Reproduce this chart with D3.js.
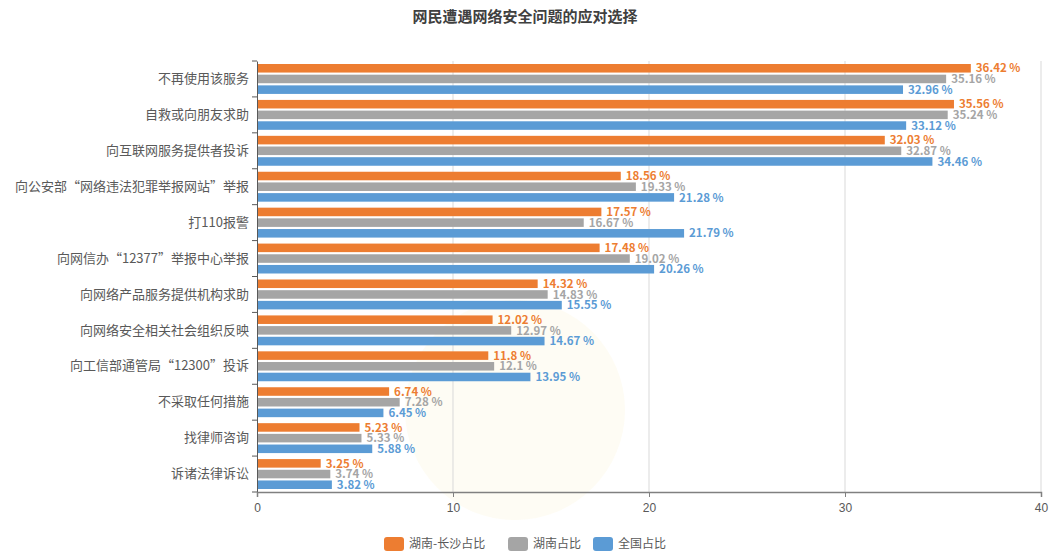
<!DOCTYPE html>
<html lang="zh">
<head>
<meta charset="utf-8">
<script src="https://d3js.org/d3.v7.min.js"></script>
<style>
  body { margin: 0; background: #fff; font-family: "Noto Sans CJK SC", "Noto Sans", sans-serif; }
</style>
</head>
<body>
<script>
  var categories = ["不再使用该服务", "自救或向朋友求助", "向互联网服务提供者投诉",
    "向公安部“网络违法犯罪举报网站”举报", "打110报警", "向网信办“12377”举报中心举报",
    "向网络产品服务提供机构求助", "向网络安全相关社会组织反映", "向工信部通管局“12300”投诉",
    "不采取任何措施", "找律师咨询", "诉诸法律诉讼"];
  var seriesNames = ["湖南-长沙占比", "湖南占比", "全国占比"];
  var changsha = [36.42, 35.56, 32.03, 18.56, 17.57, 17.48, 14.32, 12.02, 11.8, 6.74, 5.23, 3.25];
  var hunan = [35.16, 35.24, 32.87, 19.33, 16.67, 19.02, 14.83, 12.97, 12.1, 7.28, 5.33, 3.74];
  var national = [32.96, 33.12, 34.46, 21.28, 21.79, 20.26, 15.55, 14.67, 13.95, 6.45, 5.88, 3.82];
  var xTicks = [0, 10, 20, 30, 40];
  var colors = ["#ED7D31", "#A5A5A5", "#5B9BD5"];

  var width = 1050, height = 555;
  var margin = { top: 61, right: 9, bottom: 63, left: 257 };

  var svg = d3.select("body").append("svg")
    .attr("width", width)
    .attr("height", height);

  // faint background seal
  svg.append("circle")
    .attr("cx", 515).attr("cy", 410).attr("r", 110)
    .attr("fill", "#F7E7A8").attr("opacity", 0.12);

  svg.append("text")
    .attr("x", width / 2).attr("y", 22)
    .attr("text-anchor", "middle")
    .attr("font-size", 15)
    .attr("font-weight", "bold")
    .attr("fill", "#404040")
    .text("网民遭遇网络安全问题的应对选择");

  var x = d3.scaleLinear().domain([0, 40]).range([margin.left, width - margin.right]);
  var y = d3.scaleBand().domain(categories).range([margin.top, height - margin.bottom]);
  var sub = d3.scaleBand().domain(d3.range(3)).range([3, y.bandwidth() - 3]).paddingInner(0.2);

  // grid
  svg.append("g").selectAll("line")
    .data(xTicks.slice(1))
    .join("line")
    .attr("x1", d => x(d)).attr("x2", d => x(d))
    .attr("y1", margin.top).attr("y2", height - margin.bottom)
    .attr("stroke", "#D9D9D9");

  var rows = categories.map(function(c, i) {
    return { cat: c, vals: [changsha[i], hunan[i], national[i]] };
  });

  var g = svg.append("g").selectAll("g")
    .data(rows)
    .join("g")
    .attr("transform", d => "translate(0," + y(d.cat) + ")");

  g.selectAll("rect")
    .data(d => d.vals)
    .join("rect")
    .attr("x", x(0))
    .attr("y", (d, i) => sub(i))
    .attr("width", d => x(d) - x(0))
    .attr("height", sub.bandwidth())
    .attr("fill", (d, i) => colors[i]);

  g.selectAll("text")
    .data(d => d.vals)
    .join("text")
    .attr("x", d => x(d) + 5)
    .attr("y", (d, i) => sub(i) + sub.bandwidth() / 2)
    .attr("dy", "0.36em")
    .attr("font-size", 11.5)
    .attr("font-weight", "bold")
    .attr("fill", (d, i) => colors[i])
    .text(d => d + " %");

  // y axis
  var yAxis = svg.append("g")
    .attr("transform", "translate(" + margin.left + ",0)")
    .call(d3.axisLeft(y).tickSize(0).tickPadding(8));
  yAxis.select(".domain").attr("stroke", "#595959");
  yAxis.selectAll("text").attr("font-size", 13).attr("fill", "#595959")
    .attr("font-family", "Noto Sans CJK SC");
  yAxis.selectAll(".bnd")
    .data(categories.concat([null]))
    .join("line")
    .attr("x1", -5).attr("x2", 0)
    .attr("y1", (d, i) => margin.top + i * y.step())
    .attr("y2", (d, i) => margin.top + i * y.step())
    .attr("stroke", "#595959");

  // x axis
  var xAxis = svg.append("g")
    .attr("transform", "translate(0," + (height - margin.bottom) + ")")
    .call(d3.axisBottom(x).tickValues(xTicks).tickSize(5).tickPadding(6));
  xAxis.select(".domain").attr("stroke", "#808080").attr("stroke-width", 1.5);
  xAxis.selectAll(".tick line").attr("stroke", "#808080");
  xAxis.selectAll("text").attr("font-size", 12).attr("fill", "#595959");

  // legend
  var legendX = [384, 508, 593];
  var leg = svg.append("g").selectAll("g")
    .data(seriesNames)
    .join("g")
    .attr("transform", (d, i) => "translate(" + legendX[i] + ",537)");
  leg.append("rect")
    .attr("width", 20).attr("height", 14).attr("rx", 3)
    .attr("fill", (d, i) => colors[i]);
  leg.append("text")
    .attr("x", 25).attr("y", 7).attr("dy", "0.36em")
    .attr("font-size", 12).attr("fill", "#595959")
    .text(d => d);
</script>
</body>
</html>
